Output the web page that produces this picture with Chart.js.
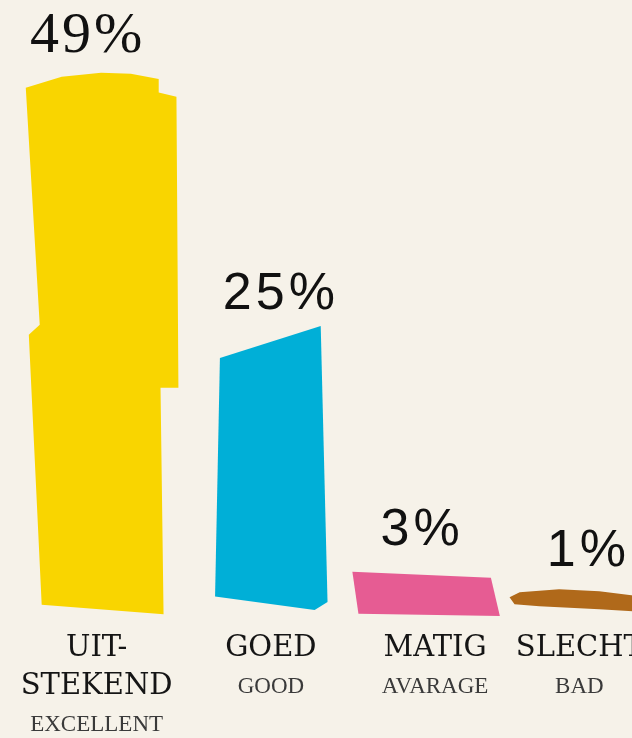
<!DOCTYPE html>
<html>
<head>
<meta charset="utf-8">
<script src="https://cdn.jsdelivr.net/npm/chart.js@4/dist/chart.umd.min.js"></script>
<style>
  html, body { margin: 0; padding: 0; width: 632px; height: 738px; overflow: hidden;
    background: #f6f2e9; }
  #wrap { position: absolute; left: 0; top: 0; width: 680px; height: 738px; }
</style>
</head>
<body>
<div id="wrap"><canvas id="c" width="680" height="738"></canvas></div>
<script>
// ---- data ----
const categoriesNL = [["UIT-", "STEKEND"], ["GOED"], ["MATIG"], ["SLECHT"]];
const categoriesEN = ["EXCELLENT", "GOOD", "AVARAGE", "BAD"];
const values = [49, 25, 3, 1];
const valueLabels = ["49%", "25%", "3%", "1%"];

// ---- styles ----
const barColors = ["#f9d500", "#00afd7", "#e65c93", "#b0691a"];
const valueFonts = [
  { font: "58px 'Liberation Serif'", spacing: "3px" },
  { font: "52px 'Liberation Sans'", spacing: "4px" },
  { font: "52px 'Liberation Sans'", spacing: "4px" },
  { font: "52px 'Liberation Sans'", spacing: "4px" }
];
const valueDx = [-15, 17, -3, 2];
const labelDx = [-6, 7, 10, -7];
// hand-cut paper shapes: [fx, fy] relative to bar box (left/top, width/height)
const shapes = [
  [[-0.007,0.006],[0.23,-0.015],[0.49,-0.023],[0.686,-0.021],[0.87,-0.011],[0.87,0.015],
   [0.987,0.023],[1.0,0.577],[0.882,0.577],[0.902,1.008],[0.098,0.99],[0.013,0.476],[0.085,0.457]],
  [[0.21,0.06],[0.875,-0.06],[0.92,0.97],[0.835,1.0],[0.178,0.95]],
  [[0.02,-0.19],[0.934,0.0],[0.993,1.19],[0.06,1.12]],
  [[-0.007,-0.19],[0.06,-0.65],[0.32,-0.93],[0.585,-0.75],[0.85,-0.28],[0.915,1.2],
   [0.585,0.93],[0.19,0.65],[0.026,0.47]]
];

const roughBars = {
  id: 'roughBars',
  beforeDatasetsDraw(chart) {
    const ctx = chart.ctx;
    const meta = chart.getDatasetMeta(0);
    ctx.save();
    meta.data.forEach((bar, i) => {
      const p = bar.getProps(['x', 'y', 'base', 'width'], true);
      const left = p.x - p.width / 2, w = p.width, top = p.y, h = p.base - p.y;
      ctx.beginPath();
      shapes[i].forEach(([fx, fy], k) => {
        const px = left + fx * w, py = top + fy * h;
        if (k === 0) ctx.moveTo(px, py); else ctx.lineTo(px, py);
      });
      ctx.closePath();
      ctx.fillStyle = barColors[i];
      ctx.fill();
    });
    ctx.restore();
    return false;
  },
  afterDraw(chart) {
    const ctx = chart.ctx;
    const meta = chart.getDatasetMeta(0);
    const xs = chart.scales.x;
    ctx.save();
    ctx.textAlign = 'center';
    ctx.textBaseline = 'alphabetic';
    meta.data.forEach((bar, i) => {
      ctx.font = valueFonts[i].font;
      ctx.letterSpacing = valueFonts[i].spacing;
      ctx.fillStyle = '#111111';
      ctx.fillText(valueLabels[i], bar.x + valueDx[i], bar.y - 33);
    });
    ctx.letterSpacing = '0px';
    categoriesNL.forEach((lines, i) => {
      const cx = xs.getPixelForValue(i) + labelDx[i];
      let y = 656;
      ctx.font = "29px 'DejaVu Serif'";
      ctx.fillStyle = '#151515';
      lines.forEach((ln, k) => {
        ctx.fillText(ln, cx, y + k * 38);
      });
      const yEn = y + (lines.length - 1) * 38 + 37;
      ctx.font = "23px 'Liberation Serif'";
      ctx.fillStyle = '#3a3a3a';
      ctx.fillText(categoriesEN[i], cx, yEn);
    });
    ctx.restore();
  }
};

new Chart(document.getElementById('c'), {
  type: 'bar',
  data: {
    labels: categoriesNL.map(l => l.join('')),
    datasets: [{
      data: values,
      backgroundColor: barColors,
      barPercentage: 0.94,
      categoryPercentage: 1.0
    }]
  },
  options: {
    responsive: false,
    devicePixelRatio: 1,
    animation: false,
    layout: { padding: { left: 22, right: 13, top: 74, bottom: 128 } },
    plugins: { legend: { display: false }, tooltip: { enabled: false } },
    scales: {
      x: { display: false, offset: true },
      y: { display: false, min: 0, max: 50 }
    }
  },
  plugins: [roughBars]
});
</script>
</body>
</html>
